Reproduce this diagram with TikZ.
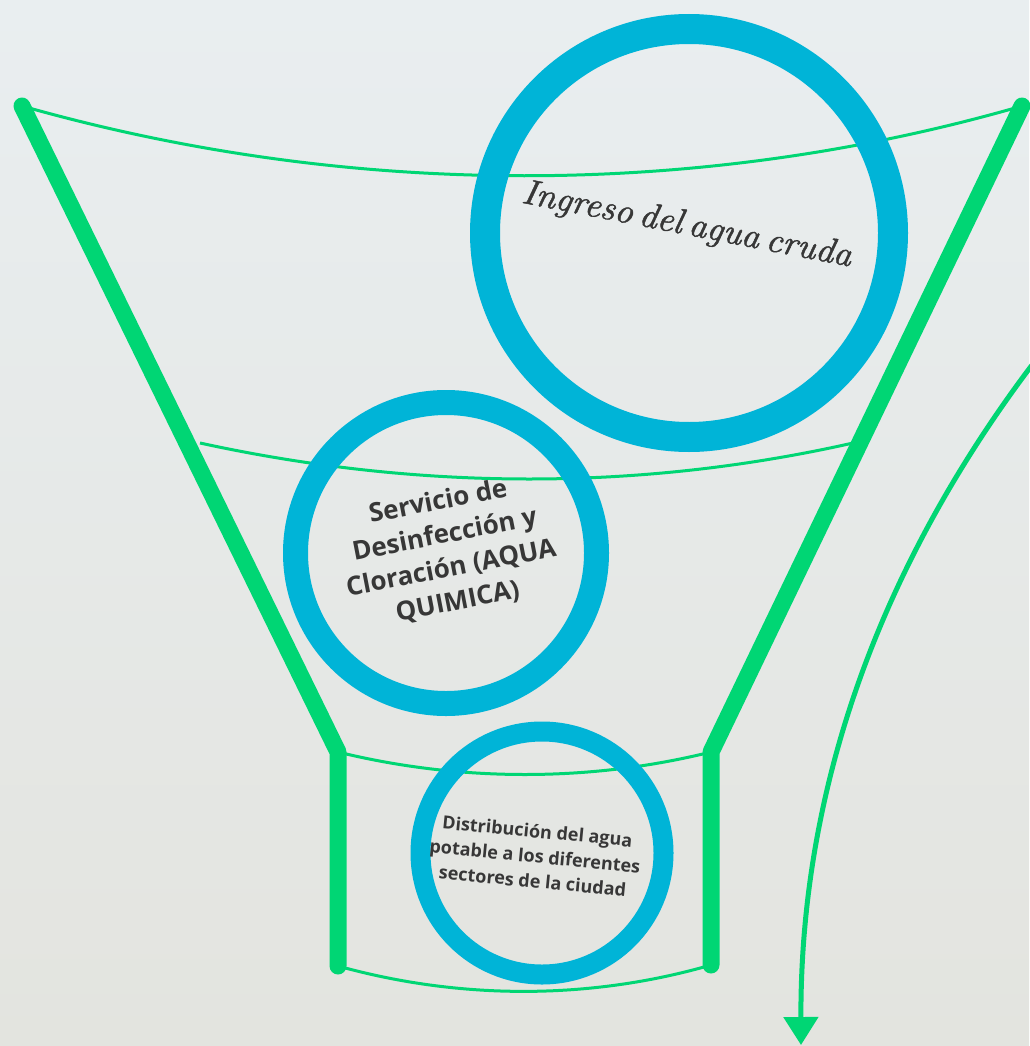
\documentclass[tikz,border=0pt]{standalone}
\usepackage{fontspec}
\newfontfamily\osans{Open Sans}
\newfontfamily\scriptf{lmroman10-italic.otf}[FakeBold=1.3, WordSpace=0.55]
\usetikzlibrary{arrows.meta}
\definecolor{bgtop}{RGB}{233,238,240}
\definecolor{bgbot}{RGB}{227,228,223}
\definecolor{fgreen}{RGB}{0,214,116}
\definecolor{rblue}{RGB}{0,180,215}
\definecolor{txt}{RGB}{55,55,55}
\tikzset{
  wall/.style={draw=fgreen, line width=17pt, line cap=round, line join=round},
  rim/.style={draw=fgreen, line width=3pt},
  ring/.style={circle, draw=rblue, inner sep=0pt, outer sep=0pt},
  flow/.style={draw=fgreen, line width=5pt, -{Triangle[length=28pt,width=34pt]}},
  lbl/.style={text=txt, align=center, inner sep=0pt}
}
\begin{document}
\begin{tikzpicture}[x=1pt,y=-1pt]
\useasboundingbox (0,0) rectangle (1029,1046);
\shade[top color=bgtop, bottom color=bgbot] (0,0) rectangle (1029,1046);
% funnel points
\coordinate (tl) at (22,106);
\coordinate (tr) at (1022,106);
\coordinate (bl) at (338,752);
\coordinate (br) at (711,752);
\coordinate (fl) at (338,966);
\coordinate (fr) at (711,965);
\coordinate (ml) at (200,443);
\coordinate (mr) at (853,443);
% thin rims
\draw[rim] (tl) .. controls (350,199) and (700,199) .. (tr);
\draw[rim] (ml) .. controls (420,491) and (640,491) .. (mr);
\draw[rim] (bl) .. controls (460,782) and (590,782) .. (br);
\draw[rim] (fl) .. controls (460,1000) and (590,1000) .. (fr);
% thick walls
\draw[wall] (tl) -- (bl) -- (fl);
\draw[wall] (tr) -- (br) -- (fr);
% rings
\node[ring, line width=30pt, minimum size=408pt] (c1) at (689,233) {};
\node[ring, line width=25pt, minimum size=301pt] (c2) at (446,553) {};
\node[ring, line width=20pt, minimum size=243pt] (c3) at (542,853) {};
% labels
\node[lbl, rotate=-11, font=\scriptf\fontsize{35.5}{40}\selectfont] (t1) at (687,226) {Ingreso del agua cruda};
\node[lbl, rotate=11, font=\osans\bfseries\fontsize{26}{34}\selectfont] (t2) at (448,552) {Servicio de\\Desinfección y\\Cloración (AQUA\\QUIMICA)};
\node[lbl, rotate=-5.5, font=\osans\bfseries\fontsize{18}{25}\selectfont] (t3) at (535,856) {Distribución del agua\\potable a los diferentes\\sectores de la ciudad};
% outflow arrow
\coordinate (as) at (1032,365);
\coordinate (ae) at (801,1045);
\draw[flow] (as) .. controls (900,540) and (800,760) .. (ae);
\end{tikzpicture}
\end{document}
